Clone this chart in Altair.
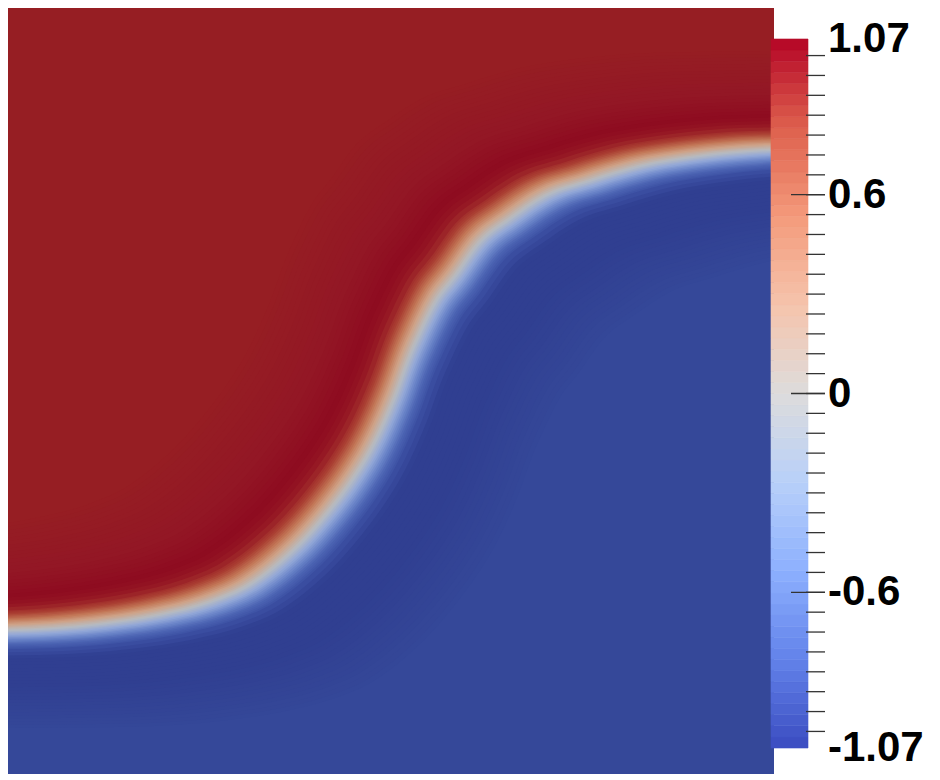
import altair as alt
import numpy as np
import pandas as pd

# Interface (phase boundary, value 0), in unit-square coords
iface_u = [-0.20, 0.000, 0.120, 0.198, 0.264, 0.316, 0.355, 0.388, 0.420, 0.449, 0.473,
           0.492, 0.508, 0.522, 0.538, 0.557, 0.584, 0.616, 0.655, 0.701, 0.760,
           0.825, 0.903, 1.000, 1.20]
iface_v = [0.186, 0.188, 0.196, 0.208, 0.225, 0.248, 0.277, 0.308, 0.345, 0.384, 0.423,
           0.462, 0.501, 0.540, 0.577, 0.615, 0.651, 0.695, 0.725, 0.755, 0.775,
           0.794, 0.807, 0.815, 0.818]

# Colour bar
cbar_min, cbar_max = -1.07, 1.07
cbar_steps = 64
label_vals = [1.07, 0.6, 0.0, -0.6, -1.07]
label_text = ["1.07", "0.6", "0", "-0.6", "-1.07"]
minor_ticks = [round(-1.02 + 0.06 * i, 2) for i in range(35)]
major_ticks = [0.6, 0.0, -0.6]

# Cool-to-warm colour map stops
cw_pos = [0.0, 0.125, 0.25, 0.375, 0.5, 0.625, 0.75, 0.875, 1.0]
cw_col = ["#3b4cc0", "#6282ea", "#8db0fe", "#b8d0f9", "#dddcdc",
          "#f5c4ac", "#f49a7b", "#de604d", "#b40426"]

# Shaded field colours across the interface (distance in px, + toward blue side)
field_d = [-130, -70, -40, -28, -20, -13, -7, 0, 6, 12, 18, 25, 35, 70, 130]
field_c = ["#961e23", "#931725", "#8e0b20", "#971a25", "#ab4033", "#c27656",
           "#cfa186", "#b8bbc0", "#93a8d8", "#6b85c9", "#4c64b3", "#3b4fa2",
           "#303f91", "#303f91", "#354899"]
edges = ([float(v) for v in range(-124, -24, 4)]
         + [round(-24 + 1.5 * i, 1) for i in range(33)]
         + [float(v) for v in range(28, 128, 4)])


def hex2rgb(h):
    h = h.lstrip("#")
    return np.array([int(h[i:i + 2], 16) for i in (0, 2, 4)], dtype=float)


def interp_color(x, xs, cs):
    rgbs = np.array([hex2rgb(c) for c in cs])
    r = [np.interp(x, xs, rgbs[:, i]) for i in range(3)]
    return "#%02x%02x%02x" % tuple(int(round(v)) for v in r)


W = H = 766
xs = alt.Scale(domain=[0, 1], nice=False, zero=False)
ys = alt.Scale(domain=[0, 1], nice=False, zero=False)
shift_x, shift_y = 1.0, 0.78

curve = pd.DataFrame({"u": iface_u, "v": iface_v, "b": [-0.6] * len(iface_u)})
base = alt.Chart(curve)

layers = []
for k, d in enumerate(edges):
    if k + 1 < len(edges):
        col = interp_color((d + edges[k + 1]) / 2, field_d, field_c)
    else:
        col = field_c[-1]
    layers.append(
        base.mark_area(clip=True, interpolate="monotone",
                       xOffset=shift_x * d, yOffset=shift_y * d, color=col)
        .encode(x=alt.X("u:Q", scale=xs, axis=None),
                y=alt.Y("v:Q", scale=ys, axis=None),
                y2=alt.Y2("b:Q"))
    )

# colour bar bands
bvals = np.linspace(cbar_min, cbar_max, cbar_steps + 1)
mids = (bvals[:-1] + bvals[1:]) / 2
cb = pd.DataFrame({
    "lo": bvals[:-1], "hi": bvals[1:],
    "c": [interp_color((m - cbar_min) / (cbar_max - cbar_min), cw_pos, cw_col) for m in mids],
})
cys = alt.Scale(domain=[cbar_min, cbar_max], range=[740, 31], nice=False, zero=False)

cbar = alt.Chart(cb).mark_rect(strokeWidth=0.6).encode(
    y=alt.Y("lo:Q", scale=cys, axis=None), y2="hi:Q",
    x=alt.value(763), x2=alt.value(800),
    color=alt.Color("c:N", scale=None),
    stroke=alt.Stroke("c:N", scale=None),
)
minor = alt.Chart(pd.DataFrame({"t": minor_ticks})).mark_rule(
    color="#333333", strokeWidth=1.3).encode(
    y=alt.Y("t:Q", scale=cys, axis=None), x=alt.value(798), x2=alt.value(817))
major = alt.Chart(pd.DataFrame({"t": major_ticks})).mark_rule(
    color="#333333", strokeWidth=1.3).encode(
    y=alt.Y("t:Q", scale=cys, axis=None), x=alt.value(783), x2=alt.value(817))
labels = alt.Chart(pd.DataFrame({"t": label_vals, "s": label_text})).mark_text(
    align="left", baseline="middle", font="Liberation Sans", fontWeight="bold",
    fontSize=42, color="black").encode(
    y=alt.Y("t:Q", scale=cys, axis=None), x=alt.value(820), text="s:N")

chart = alt.layer(*layers, cbar, minor, major, labels).resolve_scale(
    y="independent"
).properties(
    width=W, height=H, padding={"left": 0, "top": 0, "right": 0, "bottom": 0}
).configure_view(fill="#961e23", strokeWidth=0)

chart.save("out.html", embed_options={"renderer": "svg", "actions": False})
